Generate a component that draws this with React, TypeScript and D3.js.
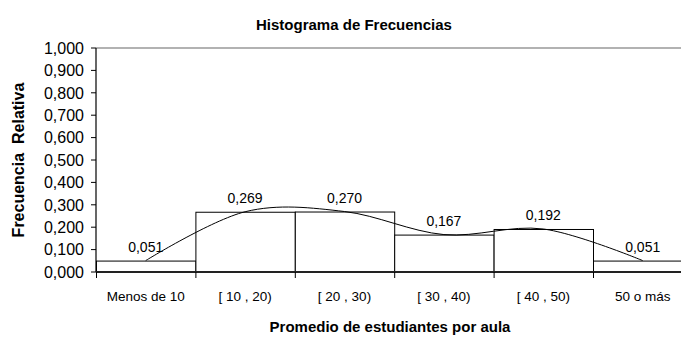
import React from "react";
import * as d3 from "d3";

const categories = ["Menos de 10", "[ 10 , 20)", "[ 20 , 30)", "[ 30 , 40)", "[ 40 , 50)", "50 o más"];
const relFreq = [0.051, 0.269, 0.27, 0.167, 0.192, 0.051];
const yTicks = [0, 0.1, 0.2, 0.3, 0.4, 0.5, 0.6, 0.7, 0.8, 0.9, 1.0];

const W = 681;
const H = 338;
const left = 96;
const top = 48;
const bottom = 272;
const bandW = 99.4;
const FONT = "'Liberation Sans', Arial, sans-serif";

const fmt = (v: number) => v.toFixed(3).replace(".", ",");

export default function App() {
  const x = d3
    .scaleBand<string>()
    .domain(categories)
    .range([left, left + bandW * categories.length])
    .paddingInner(0)
    .paddingOuter(0);
  const y = d3.scaleLinear().domain([0, 1]).range([bottom, top]);

  const pts: [number, number][] = categories.map((c, i) => [
    (x(c) as number) + x.bandwidth() / 2,
    y(relFreq[i]),
  ]);
  const smooth = d3.line().curve(d3.curveCatmullRom.alpha(0))(pts) || "";

  const right = left + bandW * categories.length;

  return (
    <svg
      width={W}
      height={H}
      style={{ position: "absolute", left: 0, top: 0, background: "#fff" }}
      fontFamily={FONT}
    >
      <rect x={0} y={0} width={W} height={H} fill="#fff" />
      <text x={354} y={30} textAnchor="middle" fontSize={15} fontWeight="bold" fill="#000">
        Histograma de Frecuencias
      </text>

      {/* plot frame top edge */}
      <line x1={left} x2={right} y1={top} y2={top} stroke="#999" strokeWidth={1.5} />

      {/* bars */}
      {categories.map((c, i) => (
        <rect
          key={c}
          x={(x(c) as number) + 0.5}
          y={y(relFreq[i]) + 0.5}
          width={x.bandwidth()}
          height={bottom - y(relFreq[i])}
          fill="#fff"
          stroke="#000"
          strokeWidth={1}
        />
      ))}

      {/* smoothed polygon */}
      <path d={smooth} fill="none" stroke="#000" strokeWidth={1} />

      {/* value labels */}
      {categories.map((c, i) => (
        <text
          key={c}
          x={(x(c) as number) + x.bandwidth() / 2}
          y={y(relFreq[i]) - 9}
          textAnchor="middle"
          fontSize={14}
          fill="#000"
        >
          {fmt(relFreq[i])}
        </text>
      ))}

      {/* y axis */}
      <line x1={left} x2={left} y1={top} y2={bottom} stroke="#000" strokeWidth={1.2} />
      {yTicks.map((t) => (
        <g key={t}>
          <line x1={left - 5} x2={left} y1={y(t)} y2={y(t)} stroke="#000" strokeWidth={1} />
          <text x={84} y={y(t) + 5.8} textAnchor="end" fontSize={16} fill="#000">
            {fmt(t)}
          </text>
        </g>
      ))}

      {/* x axis */}
      <line x1={left} x2={right} y1={bottom} y2={bottom} stroke="#222" strokeWidth={2} />
      {categories.map((c) => (
        <line
          key={c}
          x1={(x(c) as number) + 0.5}
          x2={(x(c) as number) + 0.5}
          y1={bottom}
          y2={bottom + 6}
          stroke="#000"
          strokeWidth={1}
        />
      ))}
      {categories.map((c) => (
        <text
          key={c}
          x={(x(c) as number) + x.bandwidth() / 2}
          y={301}
          textAnchor="middle"
          fontSize={13.5}
          fill="#000"
        >
          {c}
        </text>
      ))}

      <text x={390} y={332} textAnchor="middle" fontSize={15} fontWeight="bold" fill="#000">
        Promedio de estudiantes por aula
      </text>
      <text
        transform={`translate(24,160) rotate(-90)`}
        textAnchor="middle"
        fontSize={16}
        fontWeight="bold"
        fill="#000"
        style={{ whiteSpace: "pre" }}
      >
        {"Frecuencia  Relativa"}
      </text>
    </svg>
  );
}
